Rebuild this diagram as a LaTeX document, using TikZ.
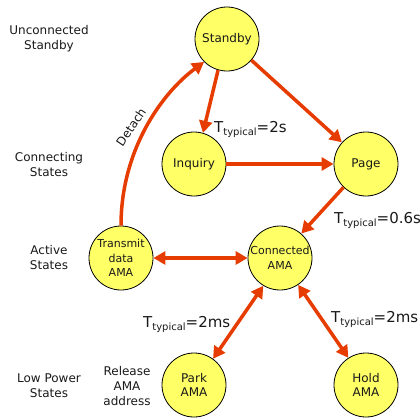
\documentclass[tikz,border=0pt]{standalone}
\usepackage{fontspec}
\setmainfont{DejaVu Sans}
\usetikzlibrary{arrows.meta}
\definecolor{arrowred}{RGB}{230,60,0}
\definecolor{statefill}{RGB}{255,255,102}
\definecolor{inktext}{RGB}{25,25,25}
\newcommand{\ttyp}[1]{T\raisebox{-3.5pt}{\fontsize{10}{10}\selectfont typical}=#1}
\begin{document}
\begin{tikzpicture}[x=1pt,y=-1pt,
  state/.style={circle,draw=black,line width=0.8pt,fill=statefill,minimum size=64pt,
    inner sep=0pt,align=center,text=inktext,font=\fontsize{12}{14.5}\selectfont},
  smallstate/.style={state,font=\fontsize{11}{14.5}\selectfont},
  level/.style={align=center,text=inktext,font=\fontsize{12}{15}\selectfont},
  timing/.style={anchor=base west,inner sep=0pt,text=inktext,font=\fontsize{15}{15}\selectfont},
  flow/.style={draw=arrowred,line width=3.5pt,-{Triangle[length=12pt,width=13pt]}},
  twoway/.style={draw=arrowred,line width=3.5pt,{Triangle[length=12pt,width=13pt]}-{Triangle[length=12pt,width=13pt]}}]
  \useasboundingbox (0,0) rectangle (420,418);

  % states
  \node[state] (standby) at (227,39) {Standby};
  \node[state] (inquiry) at (194,164) {Inquiry};
  \node[state] (page) at (366,164) {Page};
  \node[smallstate] (transmit) at (121,258) {Transmit\\data\\AMA};
  \node[smallstate] (connected) at (280,258) {Connected\\AMA};
  \node[state] (park) at (194,385) {Park\\AMA};
  \node[state] (hold) at (366,385) {Hold\\AMA};

  % level captions
  \node[level] (lvl1) at (49,38.5) {Unconnected\\Standby};
  \node[level] (lvl2) at (49,164.5) {Connecting\\States};
  \node[level] (lvl3) at (49,258) {Active\\States};
  \node[level] (lvl4) at (49,386) {Low Power\\States};
  \node[level] (release) at (127,386) {Release\\AMA\\address};

  % transitions
  \draw[flow] (standby.254) -- (inquiry.74);
  \draw[flow] (standby.319) -- (page.138);
  \draw[flow] (inquiry.east) -- (page.west);
  \draw[flow] (page.226) -- (connected.49);
  \draw[twoway] (transmit.east) -- (connected.west);
  \draw[twoway] (connected.239) -- (park.54);
  \draw[twoway] (connected.304) -- (hold.123);
  \draw[flow] (transmit.north) .. controls +(0,-76) and +(-42,31) .. (standby.225);
  \node[rotate=56,inner sep=0pt,text=inktext,font=\fontsize{12}{12}\selectfont] (detach) at (131,127) {Detach};

  % timing labels
  \node[timing] (t1) at (214,132) {\ttyp{2s}};
  \node[timing] (t2) at (334,223) {\ttyp{0.6s}};
  \node[timing] (t3) at (143,327) {\ttyp{2ms}};
  \node[timing] (t4) at (331,322) {\ttyp{2ms}};
\end{tikzpicture}
\end{document}
